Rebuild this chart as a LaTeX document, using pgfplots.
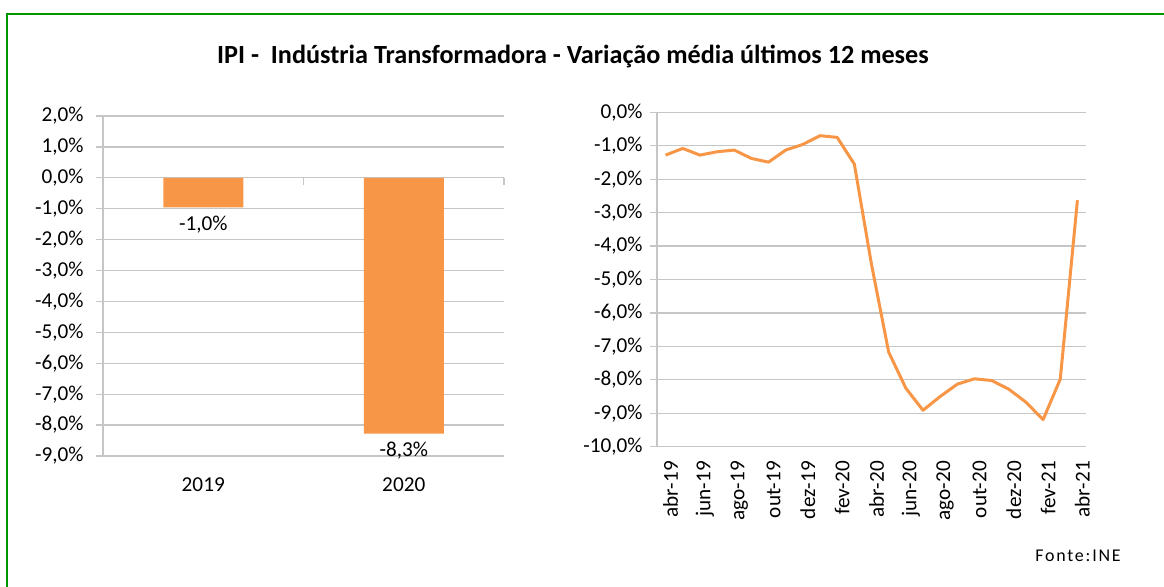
\documentclass[border=0pt]{standalone}
\usepackage{fontspec}
\setmainfont{Carlito}
\usepackage{pgfplots}
\pgfplotsset{compat=1.18}
\definecolor{barorange}{HTML}{F79646}
\definecolor{gridgray}{HTML}{C6C6C6}
\definecolor{framegreen}{RGB}{0,150,0}
\begin{document}
\begin{tikzpicture}[x=1bp,y=1bp]
\path[use as bounding box] (0bp,0bp) rectangle (1164bp,587bp);
\draw[framegreen, line width=2bp] (6.5bp,-5bp) -- (6.5bp,573bp) -- (1170bp,573bp);
\node[font=\fontsize{26.3}{30}\selectfont\bfseries] at (573bp,531bp) {IPI -\ \ Indústria Transformadora - Variação média últimos 12 meses};
\node[font=\fontsize{18}{22}\selectfont\addfontfeature{LetterSpace=10}] at (1078bp,31bp) {Fonte:INE};
\pgfplotsset{
  common/.style={
    scale only axis,
    /pgf/number format/assume math mode=true,
    tick label style={font=\fontsize{21.3}{25}\selectfont},
    ymajorgrids,
    grid style={gridgray, line width=1.3bp},
    axis x line=bottom, axis y line=left,
    axis line style={gridgray, line width=1.3bp, -},
    ytick style={gridgray, line width=1.3bp},
    xtick style={draw=none},
    tick align=outside,
    major tick length=7bp,
    yticklabel={\pgfmathprintnumber[fixed,fixed zerofill,precision=1,use comma]{\tick}\%},
    clip=false,
  }
}
\begin{axis}[common,
  at={(103bp,131bp)}, anchor=south west, width=401bp, height=340bp,
  xmin=-0.5, xmax=1.5, ymin=-9, ymax=2, ytick={-9,-8,...,2},
  xtick={0,1}, xticklabels={2019,2020},
  xticklabel style={yshift=-11bp},
  yticklabel style={xshift=-9bp},
]
\draw[gridgray, line width=1.3bp] (axis cs:-0.5,0) -- (axis cs:1.5,0);
\draw[gridgray, line width=1.3bp] (axis cs:0.5,0) -- ([yshift=-7bp]axis cs:0.5,0);
\draw[gridgray, line width=1.3bp] (axis cs:1.5,0) -- ([yshift=-7bp]axis cs:1.5,0);
\addplot[ybar, fill=barorange, draw=none, bar width=80bp,
  nodes near coords, point meta=explicit symbolic,
  every node near coord/.append style={font=\fontsize{21.3}{25}\selectfont, black, anchor=north, yshift=-5bp}]
  coordinates {(0,-0.96) [-1,0\%] (1,-8.28) [-8,3\%]};
\end{axis}
\begin{axis}[common,
  at={(657bp,140.3bp)}, anchor=south west, width=429bp, height=334.4bp,
  xmin=-0.5, xmax=24.5, ymin=-10, ymax=0, ytick={-10,-9,...,0},
  xtick={0,2,...,24},
  xticklabels={abr-19,jun-19,ago-19,out-19,dez-19,fev-20,abr-20,jun-20,ago-20,out-20,dez-20,fev-21,abr-21},
  xticklabel style={xshift=5bp, yshift=-4bp, rotate=90, anchor=east},
  yticklabel style={xshift=-4bp},
]
\addplot[barorange, line width=3bp, line join=round, mark=none] coordinates {
(0,-1.28) (1,-1.08) (2,-1.28) (3,-1.18) (4,-1.13) (5,-1.38) (6,-1.49) (7,-1.13)
(8,-0.96) (9,-0.70) (10,-0.75) (11,-1.55) (12,-4.55) (13,-7.17) (14,-8.25)
(15,-8.91) (16,-8.50) (17,-8.13) (18,-7.97) (19,-8.02) (20,-8.28) (21,-8.67)
(22,-9.19) (23,-7.98) (24,-2.63)};
\end{axis}
\end{tikzpicture}
\end{document}
